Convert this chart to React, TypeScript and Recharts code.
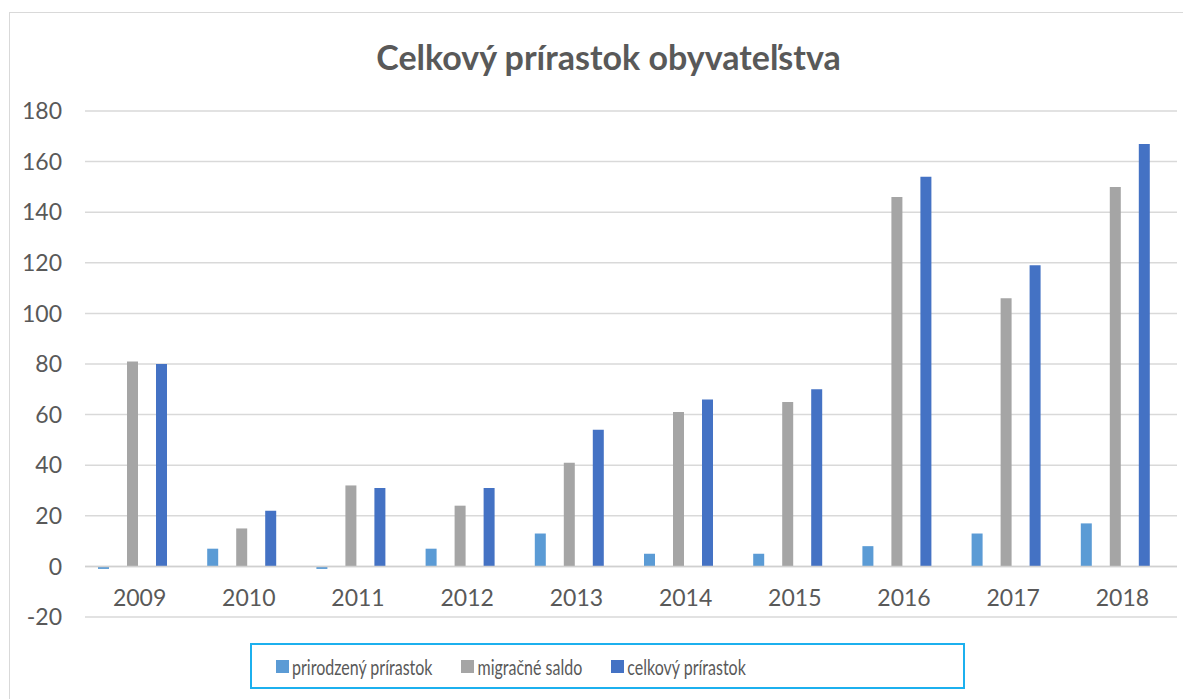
import { Bar, BarChart, CartesianGrid, ReferenceLine, XAxis, YAxis } from 'recharts'

const years = ['2009', '2010', '2011', '2012', '2013', '2014', '2015', '2016', '2017', '2018']
const prirodzeny = [-1, 7, -1, 7, 13, 5, 5, 8, 13, 17]
const migracne = [81, 15, 32, 24, 41, 61, 65, 146, 106, 150]
const celkovy = [80, 22, 31, 31, 54, 66, 70, 154, 119, 167]
const yTicks = [-20, 0, 20, 40, 60, 80, 100, 120, 140, 160, 180]

const series = [
  { key: 'prirodzeny', name: 'prirodzený prírastok', color: '#5B9BD5' },
  { key: 'migracne', name: 'migračné saldo', color: '#A5A5A5' },
  { key: 'celkovy', name: 'celkový prírastok', color: '#4472C4' },
]

const data = years.map((year, i) => ({
  year,
  prirodzeny: prirodzeny[i],
  migracne: migracne[i],
  celkovy: celkovy[i],
}))

const font = 'Lato, "Open Sans", sans-serif'
const textColor = '#595959'

function YearTick(props: any) {
  const { x, y, payload } = props
  return (
    <text x={x} y={y} dy={-50} textAnchor="middle" dominantBaseline="central"
      fill={textColor} fontSize={23} fontFamily={font}>
      {payload.value}
    </text>
  )
}

export default function App() {
  return (
    <div style={{
      position: 'relative', width: 1181, height: 700, marginTop: 4, marginLeft: 1,
      border: '1px solid #D9D9D9', background: '#fff', fontFamily: font,
    }}>
      <div style={{
        position: 'absolute', top: 27, left: 16, right: 0, textAlign: 'center',
        fontSize: 34, fontWeight: 700, color: textColor, lineHeight: 1,
      }}>
        Celkový prírastok obyvateľstva
      </div>
      <BarChart width={1180} height={620} data={data} barGap={18}
        margin={{ top: 98, right: 13, bottom: 15, left: 0 }}>
        <CartesianGrid vertical={false} stroke="#D9D9D9" strokeWidth={1.5} xAxisId="labels" />
        <XAxis xAxisId="labels" dataKey="year" axisLine={false} tickLine={false}
          tickSize={0} tickMargin={0} height={1} tick={<YearTick />} interval={0} />
        <XAxis xAxisId="bars" dataKey="year" hide padding={{ left: -7, right: 7 }} />
        <YAxis domain={[-20, 180]} ticks={yTicks} width={75} axisLine={false} tickLine={false}
          tickMargin={17} interval={0}
          tick={{ fill: textColor, fontSize: 23, fontFamily: font }} />
        <ReferenceLine y={0} xAxisId="labels" stroke="#D0D0D0" strokeWidth={1.5} />
        {series.map((s) => (
          <Bar key={s.key} xAxisId="bars" dataKey={s.key} name={s.name} fill={s.color}
            barSize={11} isAnimationActive={false} />
        ))}
      </BarChart>
      <div style={{
        position: 'absolute', left: 240, top: 630, width: 715, height: 46, boxSizing: 'border-box',
        border: '2px solid #1CB0EE', display: 'flex', alignItems: 'center', paddingLeft: 24,
      }}>
        {series.map((s, i) => (
          <div key={s.key} style={{ display: 'flex', alignItems: 'center', marginRight: i < 2 ? 29 : 0 }}>
            <span style={{ width: 13, height: 13, background: s.color, marginRight: 3, display: 'inline-block' }} />
            <span style={{
              fontSize: 16, color: textColor, display: 'inline-block',
              transform: 'scaleY(1.3)',
            }}>{s.name}</span>
          </div>
        ))}
      </div>
    </div>
  )
}
